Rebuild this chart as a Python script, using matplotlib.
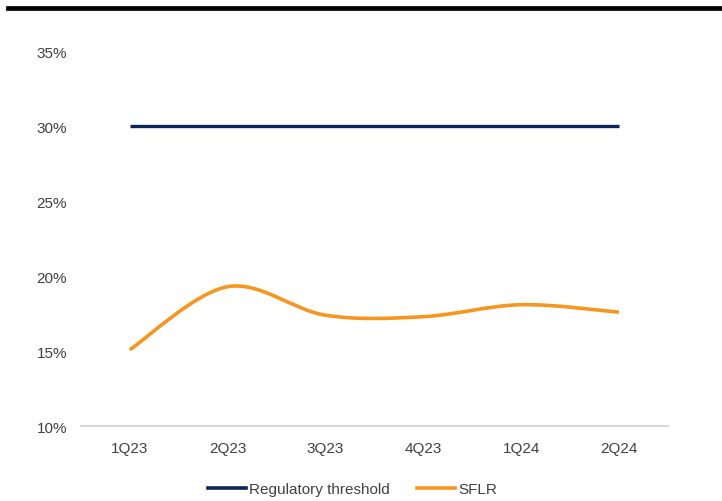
import numpy as np
import matplotlib.pyplot as plt
from matplotlib.path import Path
from matplotlib.patches import PathPatch
from matplotlib.lines import Line2D

quarters = ['1Q23', '2Q23', '3Q23', '4Q23', '1Q24', '2Q24']
threshold = [30.0, 30.0, 30.0, 30.0, 30.0, 30.0]
sflr = [15.1, 19.3, 17.4, 17.3, 18.1, 17.6]

NAVY = '#0b2358'
ORANGE = '#f7961e'

plt.rcParams['font.family'] = ['Liberation Sans', 'DejaVu Sans']


def smooth_path(xs, ys):
    # Excel-style smoothed line: cubic bezier with catmull-rom control points
    xs = np.asarray(xs, float)
    ys = np.asarray(ys, float)
    n = len(xs)
    verts = [(xs[0], ys[0])]
    codes = [Path.MOVETO]
    for i in range(n - 1):
        i0 = max(i - 1, 0)
        i3 = min(i + 2, n - 1)
        c1 = (xs[i] + (xs[i + 1] - xs[i0]) / 6, ys[i] + (ys[i + 1] - ys[i0]) / 6)
        c2 = (xs[i + 1] - (xs[i3] - xs[i]) / 6, ys[i + 1] - (ys[i3] - ys[i]) / 6)
        verts += [c1, c2, (xs[i + 1], ys[i + 1])]
        codes += [Path.CURVE4] * 3
    return Path(verts, codes)


fig = plt.figure(figsize=(7.22, 5.02), dpi=100)
ax = fig.add_axes([0.112, 0.149, 0.813, 0.747])

x = np.arange(len(quarters))
ax.plot(x, threshold, color=NAVY, lw=2.4, solid_capstyle='butt')
ax.add_patch(PathPatch(smooth_path(x, sflr), fill=False, edgecolor=ORANGE,
                       lw=2.6, capstyle='butt'))

ax.set_xlim(-0.5, len(quarters) - 0.5)
ax.set_ylim(10, 35)
ax.set_yticks(np.arange(10, 36, 5))
ax.set_yticklabels([f'{v}%' for v in range(10, 36, 5)])
ax.set_xticks(x)
ax.set_xticklabels(quarters)
ax.tick_params(axis='both', length=0, labelsize=11, colors='#404040')
ax.tick_params(axis='x', pad=11)
ax.tick_params(axis='y', pad=10)
for s in ['left', 'right', 'top']:
    ax.spines[s].set_visible(False)
ax.spines['bottom'].set_color('#d9d9d9')
ax.spines['bottom'].set_linewidth(1.5)

handles = [Line2D([], [], color=NAVY, lw=2.6),
           Line2D([], [], color=ORANGE, lw=2.6)]
fig.legend(handles, ['Regulatory threshold', 'SFLR'], loc='center',
           bbox_to_anchor=(0.488, 0.023), ncol=2, frameon=False,
           fontsize=11, handlelength=2.5, handletextpad=0.2,
           columnspacing=1.75, labelcolor='#404040')

# thick rule across the top
fig.add_artist(Line2D([0.011, 1.0], [0.983, 0.983], color='black', lw=3.4,
                      transform=fig.transFigure))

fig.savefig('out.png', dpi=100)
